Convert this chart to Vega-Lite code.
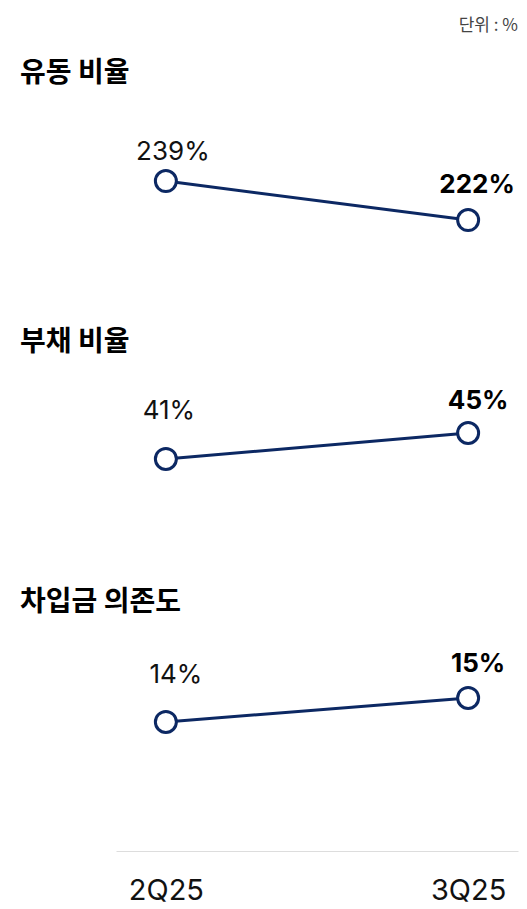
{
  "$schema": "https://vega.github.io/schema/vega-lite/v6.json",
  "autosize": {"type": "pad"},
  "padding": {"left": 20, "top": 17, "right": 9, "bottom": 0},
  "background": "white",
  "title": {"text": "단위 : %", "anchor": "end", "frame": "group", "fontSize": 17, "fontWeight": "normal", "color": "#444444", "font": "Noto Sans CJK KR", "offset": 25},
  "config": {"view": {"stroke": null}, "font": "Inter"},
  "datasets": {
    "ratios": [
      {"metric": "유동 비율", "q": "2Q25", "value": 239, "label": "239%"},
      {"metric": "유동 비율", "q": "3Q25", "value": 222, "label": "222%"},
      {"metric": "부채 비율", "q": "2Q25", "value": 41, "label": "41%"},
      {"metric": "부채 비율", "q": "3Q25", "value": 45, "label": "45%"},
      {"metric": "차입금 의존도", "q": "2Q25", "value": 14, "label": "14%"},
      {"metric": "차입금 의존도", "q": "3Q25", "value": 15, "label": "15%"}
    ]
  },
  "spacing": 28,
  "vconcat": [
    {
      "width": 402, "height": 200,
      "data": {"name": "ratios"},
      "transform": [{"filter": "datum.metric === '유동 비율'"}],
      "title": {"text": "유동 비율", "anchor": "start", "dx": -96, "fontSize": 28, "fontWeight": "bold", "font": "Noto Sans CJK KR", "color": "#000000", "offset": 13},
      "encoding": {
        "x": {"field": "q", "type": "ordinal", "scale": {"type": "point", "domain": ["2Q25", "3Q25"], "padding": 0.165}, "axis": null},
        "y": {"field": "value", "type": "quantitative", "scale": {"domain": [186.7, 273.9], "zero": false, "nice": false}, "axis": null}
      },
      "layer": [
        {"mark": {"type": "line", "color": "#0c2863", "strokeWidth": 3}},
        {"mark": {"type": "point", "shape": "circle", "size": 441, "filled": true, "fill": "white", "stroke": "#0c2863", "strokeWidth": 3, "opacity": 1}},
        {"transform": [{"filter": "datum.q === '2Q25'"}], "mark": {"type": "text", "fontSize": 26, "color": "#111111", "dx": 7, "dy": -29}, "encoding": {"text": {"field": "label"}}},
        {"transform": [{"filter": "datum.q === '3Q25'"}], "mark": {"type": "text", "fontSize": 26, "fontWeight": "bold", "color": "#000000", "dx": 9, "dy": -35}, "encoding": {"text": {"field": "label"}}}
      ]
    },
    {
      "width": 402, "height": 191,
      "data": {"name": "ratios"},
      "transform": [{"filter": "datum.metric === '부채 비율'"}],
      "title": {"text": "부채 비율", "anchor": "start", "dx": -96, "fontSize": 28, "fontWeight": "bold", "font": "Noto Sans CJK KR", "color": "#000000", "offset": 13},
      "encoding": {
        "x": {"field": "q", "type": "ordinal", "scale": {"type": "point", "domain": ["2Q25", "3Q25"], "padding": 0.165}, "axis": null},
        "y": {"field": "value", "type": "quantitative", "scale": {"domain": [25.29, 54.7], "zero": false, "nice": false}, "axis": null}
      },
      "layer": [
        {"mark": {"type": "line", "color": "#0c2863", "strokeWidth": 3}},
        {"mark": {"type": "point", "shape": "circle", "size": 441, "filled": true, "fill": "white", "stroke": "#0c2863", "strokeWidth": 3, "opacity": 1}},
        {"transform": [{"filter": "datum.q === '2Q25'"}], "mark": {"type": "text", "fontSize": 26, "color": "#111111", "dx": 3, "dy": -48}, "encoding": {"text": {"field": "label"}}},
        {"transform": [{"filter": "datum.q === '3Q25'"}], "mark": {"type": "text", "fontSize": 26, "fontWeight": "bold", "color": "#000000", "dx": 10, "dy": -32}, "encoding": {"text": {"field": "label"}}}
      ]
    },
    {
      "width": 402, "height": 221,
      "data": {"name": "ratios"},
      "transform": [{"filter": "datum.metric === '차입금 의존도'"}],
      "title": {"text": "차입금 의존도", "anchor": "start", "dx": -96, "fontSize": 28, "fontWeight": "bold", "font": "Noto Sans CJK KR", "color": "#000000", "offset": 13},
      "encoding": {
        "x": {"field": "q", "type": "ordinal", "scale": {"type": "point", "domain": ["2Q25", "3Q25"], "padding": 0.165},
              "axis": {"title": null, "orient": "bottom", "labelAngle": 0, "ticks": false, "grid": false, "domainColor": "#dddddd", "domainWidth": 1, "labelFontSize": 29, "labelColor": "#111111", "labelPadding": 25, "labelFont": "Inter"}},
        "y": {"field": "value", "type": "quantitative", "scale": {"domain": [8.624, 17.83], "zero": false, "nice": false}, "axis": null}
      },
      "layer": [
        {"mark": {"type": "line", "color": "#0c2863", "strokeWidth": 3}},
        {"mark": {"type": "point", "shape": "circle", "size": 441, "filled": true, "fill": "white", "stroke": "#0c2863", "strokeWidth": 3, "opacity": 1}},
        {"transform": [{"filter": "datum.q === '2Q25'"}], "mark": {"type": "text", "fontSize": 26, "color": "#111111", "dx": 10, "dy": -47}, "encoding": {"text": {"field": "label"}}},
        {"transform": [{"filter": "datum.q === '3Q25'"}], "mark": {"type": "text", "fontSize": 26, "fontWeight": "bold", "color": "#000000", "dx": 10, "dy": -34}, "encoding": {"text": {"field": "label"}}}
      ]
    }
  ]
}
